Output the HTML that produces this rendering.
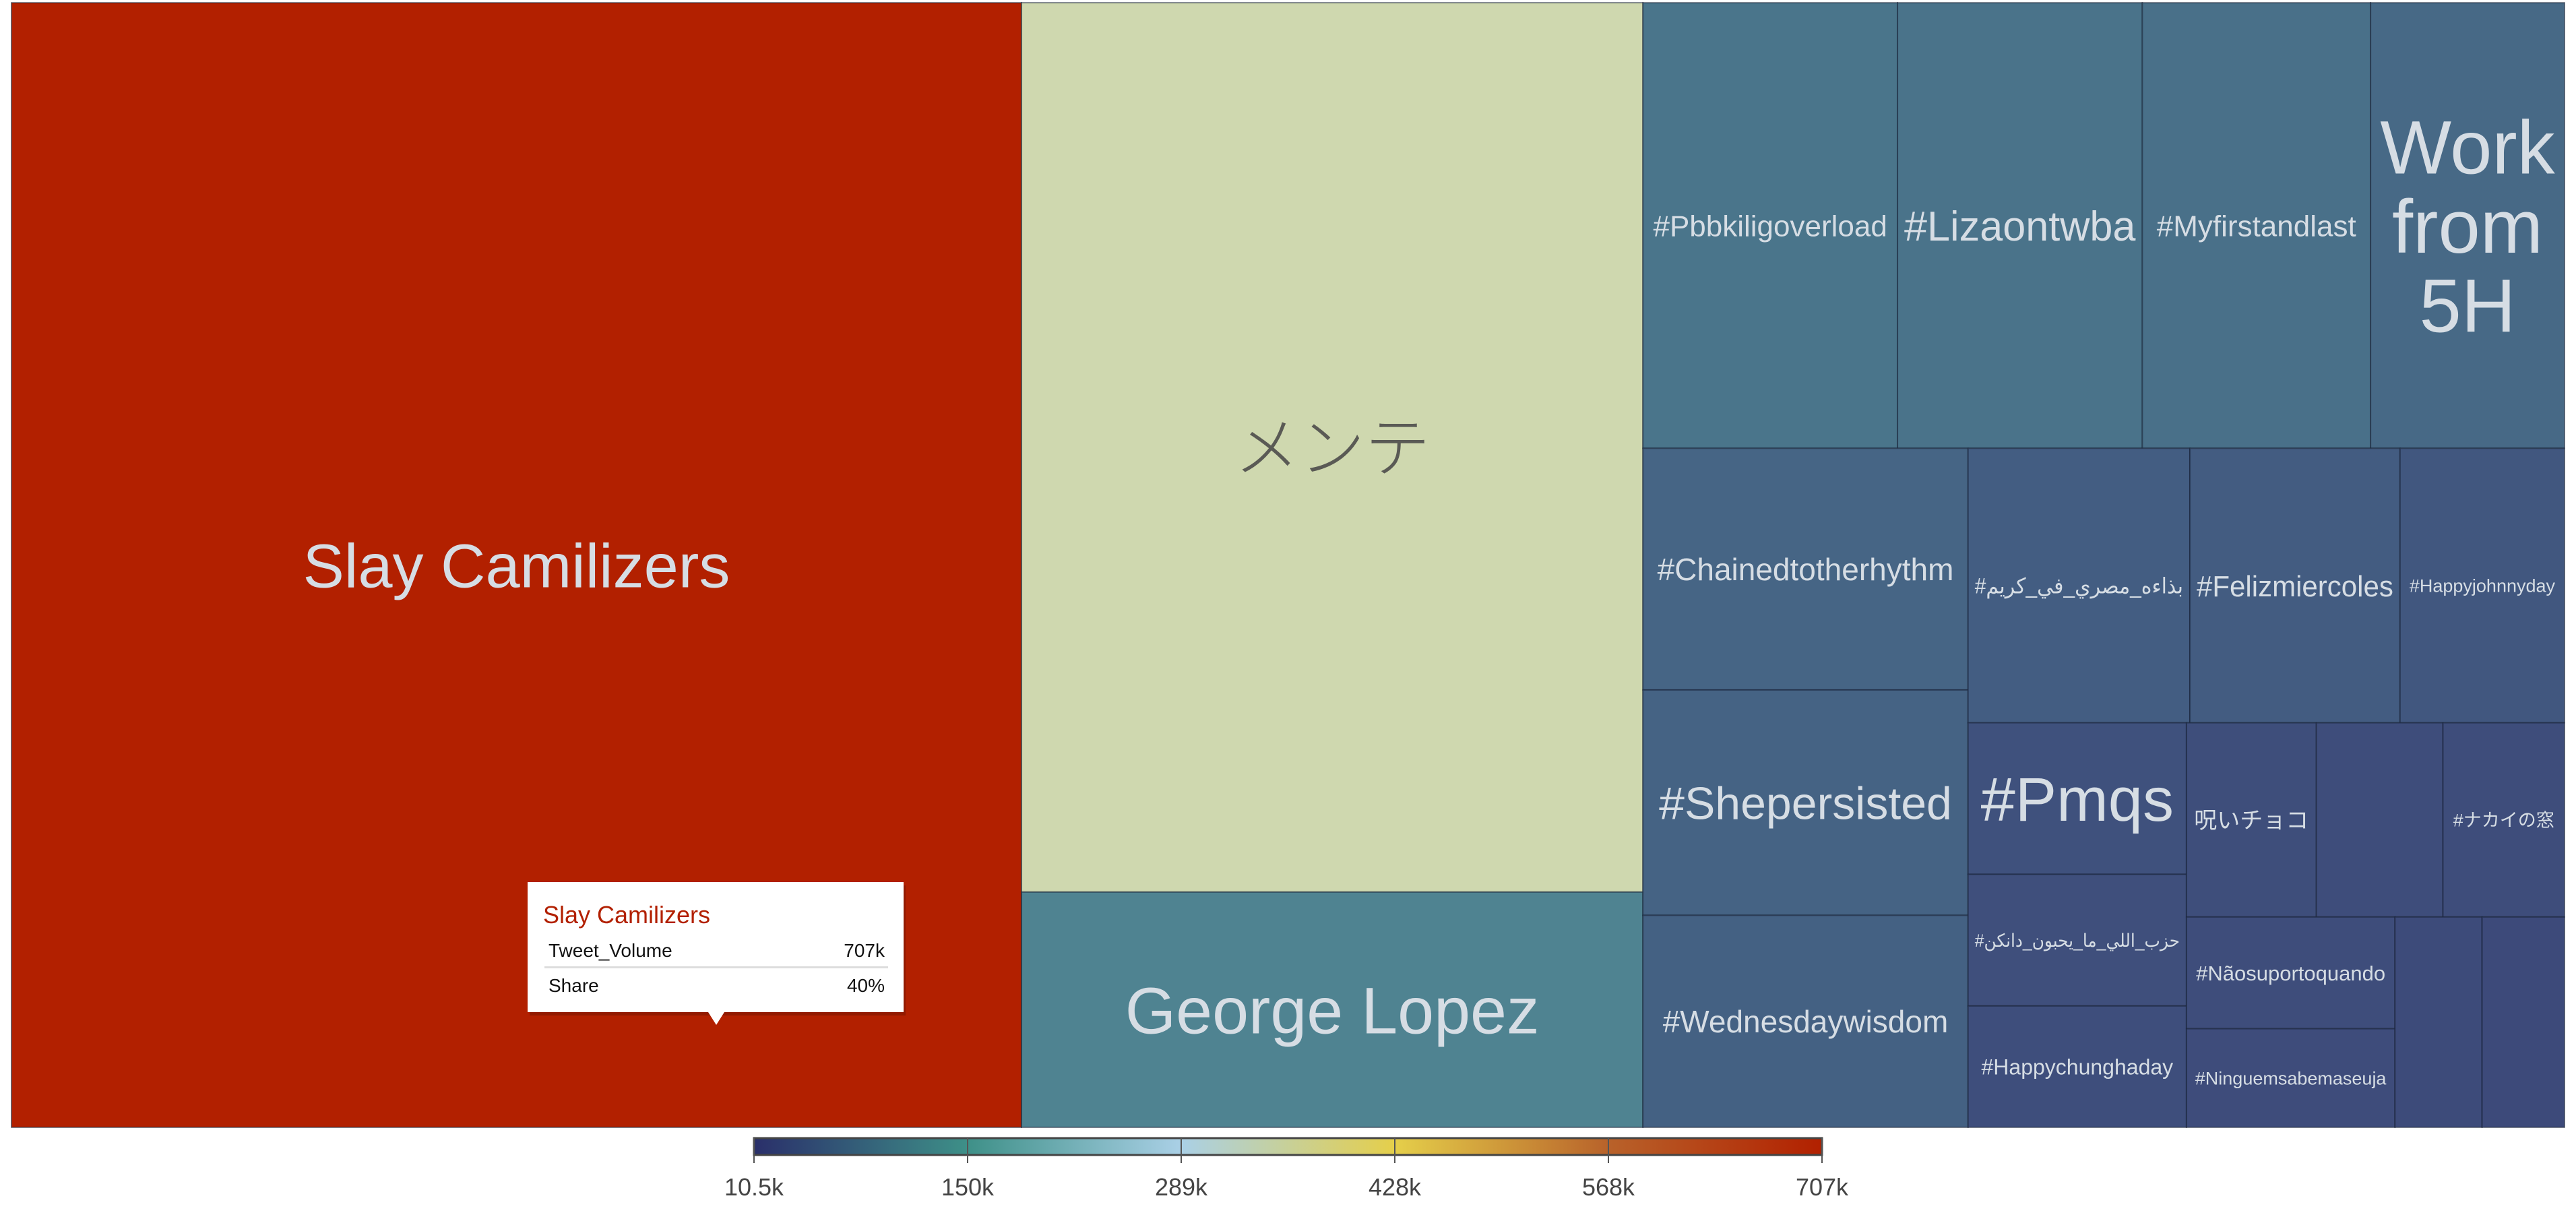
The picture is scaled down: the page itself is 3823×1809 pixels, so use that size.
<!DOCTYPE html>
<html><head><meta charset="utf-8">
<style>
html,body{margin:0;padding:0;background:#fff;width:3823px;height:1809px;overflow:hidden}
svg{display:block}
text{font-family:"Liberation Sans","Noto Sans CJK JP","DejaVu Sans",sans-serif}
</style></head>
<body>
<svg id="chart" width="3823" height="1809" viewBox="0 0 3823 1809" xmlns="http://www.w3.org/2000/svg">
<defs>
<linearGradient id="cbgrad" x1="0" x2="1" y1="0" y2="0">
<stop offset="0" stop-color="#2a2f6a"/>
<stop offset="0.2" stop-color="#3e9088"/>
<stop offset="0.4" stop-color="#aad0e6"/>
<stop offset="0.6" stop-color="#e5cf4a"/>
<stop offset="0.8" stop-color="#b8622a"/>
<stop offset="1" stop-color="#b22000"/>
</linearGradient>
</defs>
<g id="tiles"></g>
<g id="colorbar"></g>
<g id="tooltip"></g>
</svg>
<script>
// Data (tweet volume, thousands)
const names = ["Slay Camilizers","メンテ","George Lopez","#Pbbkiligoverload","#Lizaontwba","#Myfirstandlast","Work from 5H",
 "#Chainedtotherhythm","#Shepersisted","#Wednesdaywisdom","#بذاءه_مصري_في_كريم","#Felizmiercoles","#Happyjohnnyday",
 "#Pmqs","#حزب_اللي_ما_يحبون_دانكن","#Happychunghaday","呪いチョコ","","#ナカイの窓","#Nãosuportoquando","#Ninguemsabemaseuja","",""];
const values = [707,344,91,70.6,67.9,63.3,53.8,48.9,45.6,42.9,37.9,35.9,28.1,20.6,17.9,16.5,15.7,15.3,14.7,14.5,12.8,11.4,10.8];
const fontSizes = [92,97,97,44,62,44,112,46,68,46,32,44,27,92,27,32,34,0,27,31,27,0,0];
const tickLabels = ["10.5k","150k","289k","428k","568k","707k"];
const scaleMin = 10.5, scaleMax = 707;
// layout hierarchy: h = side by side, v = stacked
const tree = {d:"h",c:[0,{d:"v",c:[1,2]},{d:"v",c:[{d:"h",c:[3,4,5,6]},{d:"h",c:[{d:"v",c:[7,8,9]},{d:"v",c:[{d:"h",c:[10,11,12]},{d:"h",c:[{d:"v",c:[13,14,15]},{d:"v",c:[{d:"h",c:[16,17,18]},{d:"h",c:[{d:"v",c:[19,20]},21,22]}]}]}]}]}]}]};

const X0=17,Y0=4,X1=3806,Y1=1673;
const NS="http://www.w3.org/2000/svg";
function mk(tag,attrs,parent){const e=document.createElementNS(NS,tag);for(const k in attrs)e.setAttribute(k,attrs[k]);parent.appendChild(e);return e;}
function sum(n){return typeof n==="number"?values[n]:n.c.reduce((a,b)=>a+sum(b),0);}
const stops=[[0,[61,74,122]],[0.2,[92,173,162]],[0.4,[195,217,210]],[0.6,[225,215,120]],[0.8,[181,86,30]],[1,[178,32,0]]];
function color(v){const t=Math.max(0,Math.min(1,(v-scaleMin)/(scaleMax-scaleMin)));
 for(let i=0;i<stops.length-1;i++){const a=stops[i],b=stops[i+1];if(t<=b[0]){const f=(t-a[0])/(b[0]-a[0]);
 const c=a[1].map((x,j)=>Math.round(x+(b[1][j]-x)*f));return `rgb(${c[0]},${c[1]},${c[2]})`;}}return "rgb(178,32,0)";}
const tiles=document.getElementById("tiles");
function layout(n,x,y,w,h){
 if(typeof n==="number"){drawLeaf(n,x,y,w,h);return;}
 const tot=sum(n);let off=0;
 n.c.forEach(ch=>{const f=sum(ch)/tot;
  if(n.d==="h"){layout(ch,x+off,y,w*f,h);off+=w*f;}else{layout(ch,x,y+off,w,h*f);off+=h*f;}});
}
function drawLeaf(i,x,y,w,h){
 const g=mk("g",{},tiles);
 
 
 const c=color(values[i]);
 mk("rect",{x:x,y:y,width:w,height:h,fill:c,stroke:"rgba(20,30,50,0.5)","stroke-width":2},g);
 if(names[i]&&fontSizes[i]){
  const light=values[i]<250||values[i]>500;
  const fill=light?"#d6dde4":"#5a5a55";
  if(names[i]==="Work from 5H"){
   const lines=["Work","from","5H"];const fs=fontSizes[i];
   lines.forEach((l,k)=>{const t=mk("text",{x:x+w/2,y:y+h/2+(k-1)*fs*1.05+fs*0.36,"text-anchor":"middle","font-size":fs,fill:fill},g);t.textContent=l;});
  } else {
   const t=mk("text",{x:x+w/2,y:y+h/2+fontSizes[i]*0.36,"text-anchor":"middle","font-size":fontSizes[i],fill:fill},g);
   t.textContent=names[i];
   if(i===1){t.setAttribute("font-weight","300");}
   const maxW=w-20;
   try{const bw=t.getComputedTextLength();if(bw>maxW){t.setAttribute("textLength",maxW);t.setAttribute("lengthAdjust","spacingAndGlyphs");}}catch(e){}
  }
 }
}
layout(tree,X0,Y0,X1-X0,Y1-Y0);

// colorbar
const cb=document.getElementById("colorbar");
const CBX0=1119,CBX1=2704,CBY=1689,CBH=25;
const bar=mk("rect",{x:CBX0,y:CBY,width:CBX1-CBX0,height:CBH,fill:"url(#cbgrad)",stroke:"#444","stroke-width":3},cb);


tickLabels.forEach((lab,k)=>{
 const xp=CBX0+(CBX1-CBX0)*k/(tickLabels.length-1);
 const ln=mk("line",{x1:xp,x2:xp,y1:CBY,y2:CBY+CBH+12,stroke:"#555","stroke-width":2},cb);
 
 
 const t=mk("text",{x:xp,y:1774,"text-anchor":"middle","font-size":36,fill:"#444"},cb);
 
 
 t.textContent=lab;
});

// tooltip
const tt=document.getElementById("tooltip");
mk("rect",{x:786,y:1314,width:558,height:193,fill:"rgba(0,0,0,0.18)"},tt);
mk("rect",{x:783,y:1309,width:558,height:193,fill:"#fff"},tt);
mk("polygon",{points:"1051,1502 1075,1502 1063,1521",fill:"#fff"},tt);
const tl=mk("text",{x:806,y:1370,"font-size":36,fill:"#b22000"},tt);tl.textContent=names[0];


const r1=mk("text",{x:814,y:1420,"font-size":28,fill:"#111"},tt);r1.textContent="Tweet_Volume";
const v1=mk("text",{x:1313,y:1420,"font-size":28,fill:"#111","text-anchor":"end"},tt);v1.textContent=Math.round(values[0])+"k";
mk("rect",{x:808,y:1434,width:510,height:3,fill:"#ddd"},tt);
const r2=mk("text",{x:814,y:1472,"font-size":28,fill:"#111"},tt);r2.textContent="Share";
const tot=values.reduce((a,b)=>a+b,0);
const v2=mk("text",{x:1313,y:1472,"font-size":28,fill:"#111","text-anchor":"end"},tt);v2.textContent=Math.round(values[0]/tot*100)+"%";
</script>
</body></html>
